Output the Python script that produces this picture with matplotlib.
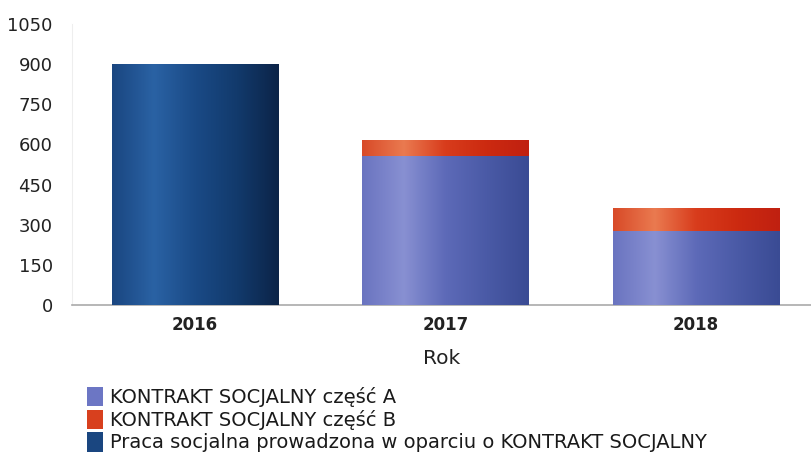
import numpy as np
import matplotlib
matplotlib.use("Agg")
import matplotlib.pyplot as plt
from matplotlib.colors import LinearSegmentedColormap
from matplotlib.patches import Patch

years = ["2016", "2017", "2018"]
praca = [900, 0, 0]
czesc_a = [0, 556, 276]
czesc_b = [0, 60, 86]

labels = ["KONTRAKT SOCJALNY część A",
          "KONTRAKT SOCJALNY część B",
          "Praca socjalna prowadzona w oparciu o KONTRAKT SOCJALNY"]

cmap_praca = LinearSegmentedColormap.from_list(
    "praca", ["#1a4680", "#2a62a4", "#1a4a86", "#123a6c", "#0c2448"])
cmap_a = LinearSegmentedColormap.from_list(
    "a", ["#6a74c0", "#8890d2", "#5d6ab8", "#4a5aa6", "#3a4b94"])
cmap_b = LinearSegmentedColormap.from_list(
    "b", ["#d84a28", "#ea7a50", "#d83c1c", "#cc2a10", "#c02010"])

plt.rcParams["font.family"] = ["DejaVu Sans"]

fig = plt.figure(figsize=(8.11, 4.57), dpi=100)
ax = fig.add_axes([0.089, 0.333, 0.911, 0.614])

x = np.arange(len(years))
w = 0.665
grad = np.linspace(0, 1, 256).reshape(1, -1)


def shaded(bars, cmap):
    for b in bars:
        if b.get_height() <= 0:
            continue
        x0, y0 = b.get_x(), b.get_y()
        img = ax.imshow(grad, cmap=cmap, aspect="auto", zorder=3,
                        extent=[x0, x0 + b.get_width(), y0, y0 + b.get_height()])
        img.set_clip_path(b)
        b.set_facecolor("none")


bp = ax.bar(x, praca, w, color="#163e72", linewidth=0, zorder=2)
ba = ax.bar(x, czesc_a, w, color="#5d6ab8", linewidth=0, zorder=2)
bb = ax.bar(x, czesc_b, w, bottom=czesc_a, color="#d83c1c", linewidth=0, zorder=2)
shaded(bp, cmap_praca)
shaded(ba, cmap_a)
shaded(bb, cmap_b)

ax.set_xlim(-0.49, 2.46)
ax.set_ylim(0, 1050)
ax.set_yticks(range(0, 1051, 150))
ax.set_xticks(x)
ax.set_xticklabels(years, fontsize=12, fontweight="bold", color="#222222")
ax.tick_params(axis="y", labelsize=13, length=0, pad=14, colors="#222222")
ax.tick_params(axis="x", length=0, pad=8)
for s in ["top", "right"]:
    ax.spines[s].set_visible(False)
ax.spines["left"].set_color("#eeeeee")
ax.spines["bottom"].set_color("#aaaaaa")
ax.spines["bottom"].set_linewidth(1.2)
ax.set_xlabel("Rok", fontsize=14.5, color="#222222", labelpad=11)

handles = [Patch(facecolor="#6c76c4"), Patch(facecolor="#d8401e"),
           Patch(facecolor="#1a4680")]
leg = fig.legend(handles, labels, loc="upper left", bbox_to_anchor=(0.107, 0.153),
                 frameon=False, fontsize=14, handlelength=0.85, handleheight=1.15,
                 handletextpad=0.35, labelspacing=0.12, borderpad=0, borderaxespad=0)
for t in leg.get_texts():
    t.set_color("#1a1a1a")

fig.savefig("out.png", dpi=100)
